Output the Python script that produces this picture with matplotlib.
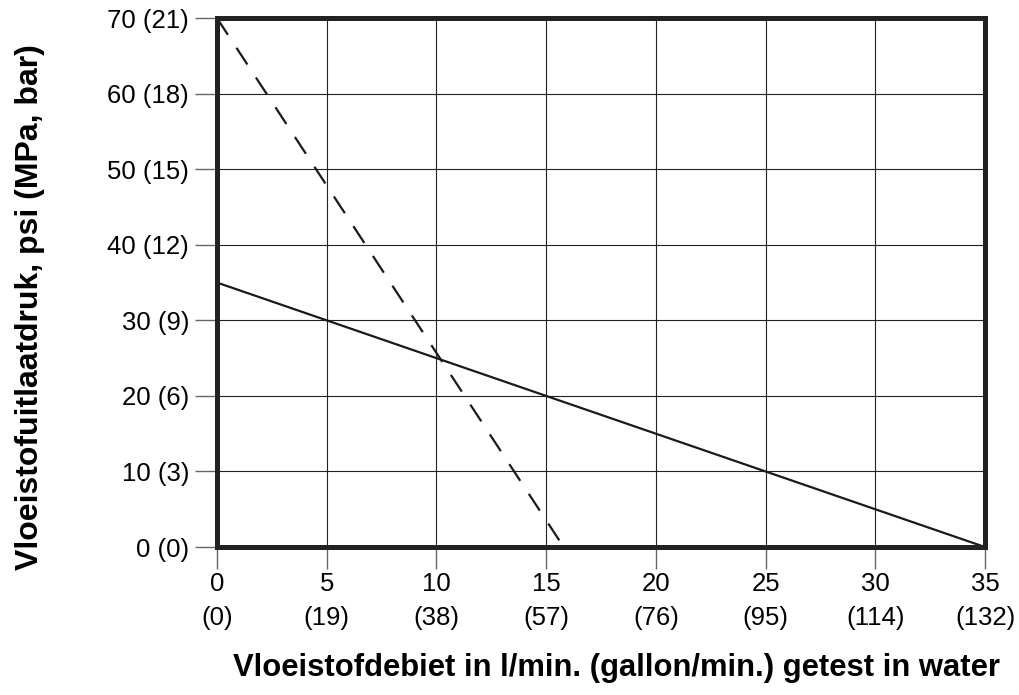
import matplotlib
matplotlib.use('Agg')
import matplotlib.pyplot as plt

plt.rcParams['font.family'] = ['Liberation Sans', 'DejaVu Sans']

# flow in l/min with gallon/min equivalents
x_ticks = [0, 5, 10, 15, 20, 25, 30, 35]
x_gal = [0, 19, 38, 57, 76, 95, 114, 132]
# pressure psi with bar equivalents
y_ticks = [0, 10, 20, 30, 40, 50, 60, 70]
y_bar = [0, 3, 6, 9, 12, 15, 18, 21]

# solid curve
solid_x = [0, 35]
solid_y = [35, 0]
# dashed curve
dash_x = [0, 15.8]
dash_y = [70, 0]

fig = plt.figure(figsize=(10.2, 6.95), dpi=100)
ax = fig.add_axes([0.2127, 0.2129, 0.7530, 0.7611])

ax.plot(solid_x, solid_y, color='#1a1a1a', lw=1.6, solid_capstyle='butt')
ax.plot(dash_x, dash_y, color='#1a1a1a', lw=1.6, dashes=(9, 7))

ax.set_xlim(0, 35)
ax.set_ylim(0, 70)
ax.set_xticks(x_ticks)
ax.set_xticklabels(['%d\n(%d)' % (a, b) for a, b in zip(x_ticks, x_gal)],
                   fontsize=18.5, linespacing=1.5)
ax.set_yticks(y_ticks)
ax.set_yticklabels(['%d (%d)' % (a, b) for a, b in zip(y_ticks, y_bar)],
                   fontsize=18.5)

ax.grid(True, color='#222222', lw=0.8)
ax.set_axisbelow(True)
ax.tick_params(length=16, width=1, color='#666666')
ax.tick_params(axis='x', pad=2)
ax.tick_params(axis='y', pad=4)

for s in ax.spines.values():
    s.set_linewidth(3.6)
    s.set_color('#222222')

ax.set_xlabel('Vloeistofdebiet in l/min. (gallon/min.) getest in water',
              fontsize=22.3, fontweight='bold', va='center')
ax.set_ylabel('Vloeistofuitlaatdruk, psi (MPa, bar)',
              fontsize=23, fontweight='bold', va='center')
ax.xaxis.set_label_coords(0.52, -0.229)
ax.yaxis.set_label_coords(-0.2435, 0.454)

fig.savefig('out.png', dpi=100)
